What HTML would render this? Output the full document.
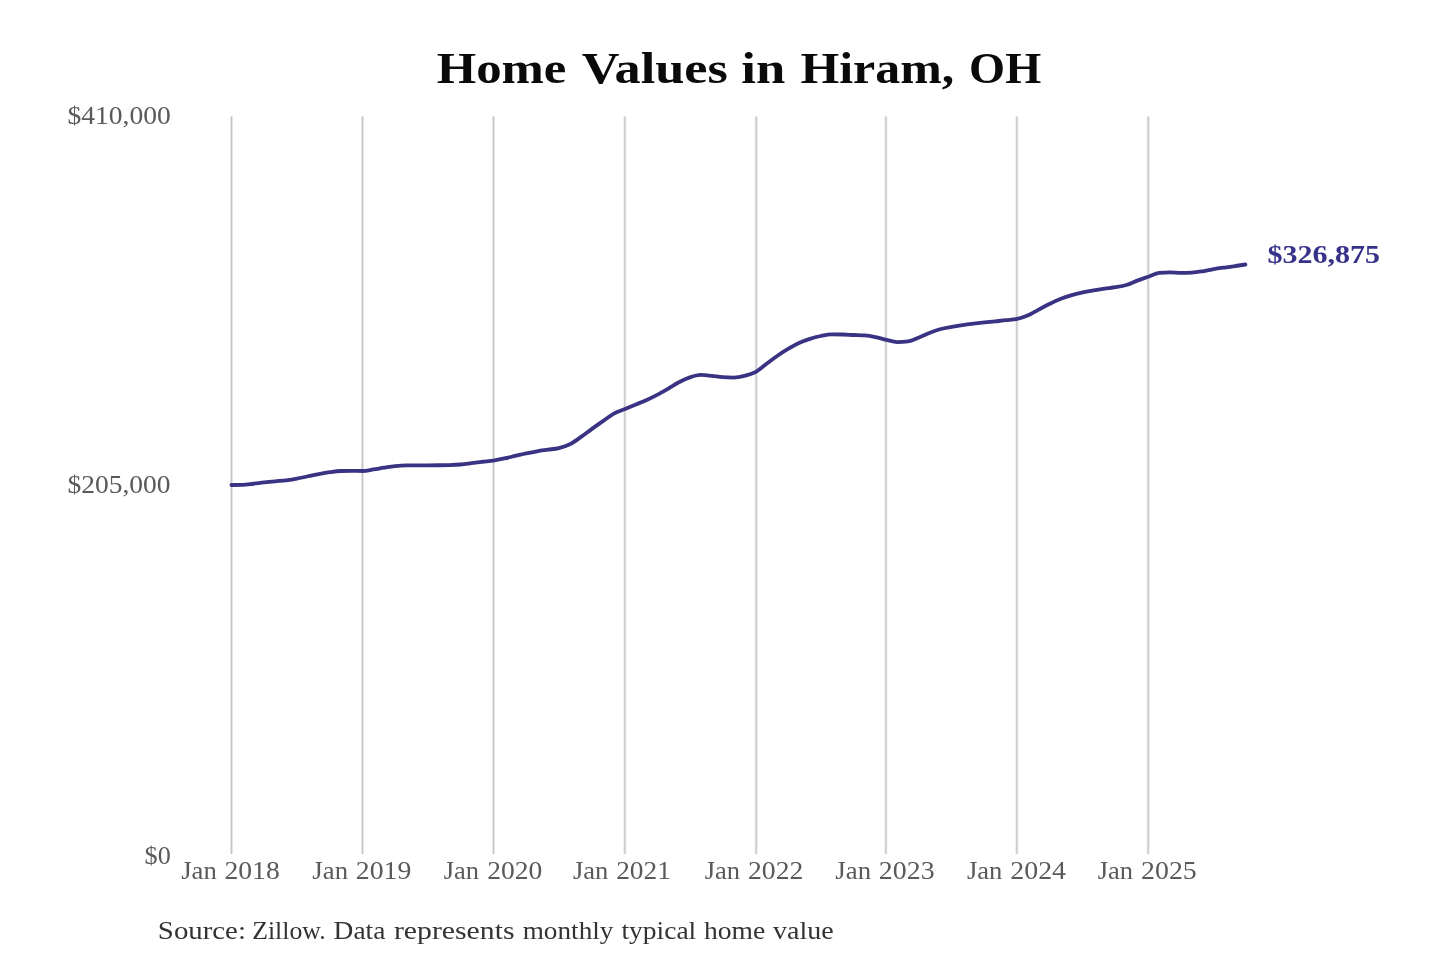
<!DOCTYPE html>
<html><head><meta charset="utf-8"><style>
html,body{margin:0;padding:0;background:#fff;overflow:hidden;}
svg{display:block;}
text{font-family:"Liberation Serif",serif;}
</style></head><body>
<svg width="1440" height="960" viewBox="0 0 1440 960">
<rect width="1440" height="960" fill="#fff"/>
<g stroke="#e6e6e6" stroke-width="2.8">
<line x1="231.5" y1="116.5" x2="231.5" y2="854"/>
<line x1="362.5" y1="116.5" x2="362.5" y2="854"/>
<line x1="493.5" y1="116.5" x2="493.5" y2="854"/>
<line x1="624.8" y1="116.5" x2="624.8" y2="854"/>
<line x1="756.2" y1="116.5" x2="756.2" y2="854"/>
<line x1="885.9" y1="116.5" x2="885.9" y2="854"/>
<line x1="1016.8" y1="116.5" x2="1016.8" y2="854"/>
<line x1="1148.2" y1="116.5" x2="1148.2" y2="854"/>
</g>
<g stroke="#c4c4c4" stroke-width="1.1">
<line x1="231.5" y1="116.5" x2="231.5" y2="854"/>
<line x1="362.5" y1="116.5" x2="362.5" y2="854"/>
<line x1="493.5" y1="116.5" x2="493.5" y2="854"/>
<line x1="624.8" y1="116.5" x2="624.8" y2="854"/>
<line x1="756.2" y1="116.5" x2="756.2" y2="854"/>
<line x1="885.9" y1="116.5" x2="885.9" y2="854"/>
<line x1="1016.8" y1="116.5" x2="1016.8" y2="854"/>
<line x1="1148.2" y1="116.5" x2="1148.2" y2="854"/>
</g>
<path d="M231.50,485.00 C235.14,484.97 238.78,484.95 242.41,484.85 C246.05,484.75 249.69,484.16 253.33,483.75 C256.96,483.34 260.60,482.81 264.24,482.41 C267.88,482.00 271.51,481.65 275.15,481.31 C278.79,480.96 282.43,480.77 286.07,480.32 C289.70,479.88 293.34,479.34 296.98,478.66 C300.62,477.99 304.25,477.03 307.89,476.26 C311.53,475.49 315.17,474.71 318.80,474.03 C322.44,473.36 326.08,472.71 329.72,472.21 C333.36,471.71 336.99,471.16 340.63,471.02 C344.27,470.88 347.91,470.81 351.54,470.81 C355.18,470.81 358.82,470.99 362.46,470.99 C366.09,470.99 369.73,470.04 373.37,469.48 C377.01,468.92 380.65,468.18 384.28,467.61 C387.92,467.04 391.56,466.43 395.20,466.05 C398.83,465.67 402.47,465.37 406.11,465.34 C409.75,465.31 413.38,465.30 417.02,465.30 C420.66,465.30 424.30,465.30 427.94,465.30 C431.57,465.30 435.21,465.29 438.85,465.26 C442.49,465.23 446.12,465.20 449.76,465.10 C453.40,465.00 457.04,464.84 460.68,464.51 C464.31,464.19 467.95,463.63 471.59,463.17 C475.23,462.71 478.86,462.19 482.50,461.75 C486.14,461.30 489.78,461.06 493.41,460.51 C497.05,459.96 500.69,459.22 504.33,458.46 C507.97,457.70 511.60,456.79 515.24,455.95 C518.88,455.12 522.52,454.21 526.15,453.43 C529.79,452.65 533.43,451.91 537.07,451.29 C540.70,450.67 544.34,450.24 547.98,449.71 C551.62,449.17 555.26,448.96 558.89,448.06 C562.53,447.16 566.17,446.11 569.81,444.30 C573.44,442.48 577.08,439.69 580.72,437.17 C584.36,434.64 587.99,431.77 591.63,429.14 C595.27,426.52 598.91,423.95 602.55,421.41 C606.18,418.87 609.82,415.92 613.46,413.89 C617.10,411.85 620.73,410.73 624.37,409.20 C628.01,407.66 631.65,406.18 635.28,404.69 C638.92,403.20 642.56,401.90 646.20,400.26 C649.84,398.63 653.47,396.81 657.11,394.89 C660.75,392.98 664.39,390.87 668.02,388.77 C671.66,386.67 675.30,384.19 678.94,382.29 C682.57,380.40 686.21,378.60 689.85,377.38 C693.49,376.16 697.13,374.97 700.76,374.97 C704.40,374.97 708.04,375.45 711.68,375.81 C715.31,376.17 718.95,376.87 722.59,377.13 C726.23,377.40 729.86,377.53 733.50,377.53 C737.14,377.53 740.78,376.84 744.42,375.95 C748.05,375.06 751.69,374.17 755.33,372.17 C758.97,370.18 762.60,366.70 766.24,364.00 C769.88,361.31 773.52,358.50 777.15,356.00 C780.79,353.50 784.43,351.16 788.07,348.99 C791.71,346.81 795.34,344.65 798.98,342.96 C802.62,341.26 806.26,339.98 809.89,338.82 C813.53,337.66 817.17,336.75 820.81,336.01 C824.44,335.26 828.08,334.36 831.72,334.36 C835.36,334.36 839.00,334.40 842.63,334.48 C846.27,334.56 849.91,334.85 853.55,335.01 C857.18,335.18 860.82,335.16 864.46,335.46 C868.10,335.77 871.73,336.40 875.37,337.13 C879.01,337.86 882.65,339.02 886.29,339.85 C889.92,340.68 893.56,342.12 897.20,342.12 C900.84,342.12 904.47,341.90 908.11,341.47 C911.75,341.03 915.39,338.93 919.02,337.48 C922.66,336.02 926.30,334.14 929.94,332.73 C933.58,331.31 937.21,329.97 940.85,329.00 C944.49,328.02 948.13,327.53 951.76,326.88 C955.40,326.22 959.04,325.60 962.68,325.06 C966.32,324.53 969.95,324.09 973.59,323.65 C977.23,323.21 980.87,322.81 984.50,322.42 C988.14,322.04 991.78,321.69 995.42,321.33 C999.05,320.96 1002.69,320.63 1006.33,320.21 C1009.97,319.80 1013.61,319.67 1017.24,318.84 C1020.88,318.02 1024.52,316.84 1028.16,315.25 C1031.79,313.67 1035.43,311.28 1039.07,309.35 C1042.71,307.43 1046.34,305.46 1049.98,303.71 C1053.62,301.96 1057.26,300.27 1060.90,298.85 C1064.53,297.42 1068.17,296.21 1071.81,295.15 C1075.45,294.08 1079.08,293.26 1082.72,292.45 C1086.36,291.64 1090.00,290.94 1093.63,290.30 C1097.27,289.66 1100.91,289.13 1104.55,288.61 C1108.19,288.10 1111.82,287.82 1115.46,287.22 C1119.10,286.62 1122.74,286.12 1126.37,285.02 C1130.01,283.92 1133.65,281.98 1137.29,280.61 C1140.92,279.24 1144.56,278.08 1148.20,276.80 C1151.84,275.52 1155.48,273.32 1159.11,272.93 C1162.75,272.55 1166.39,272.35 1170.03,272.35 C1173.66,272.35 1177.30,272.85 1180.94,272.85 C1184.58,272.85 1188.21,272.78 1191.85,272.64 C1195.49,272.50 1199.13,271.84 1202.77,271.26 C1206.40,270.68 1210.04,269.79 1213.68,269.16 C1217.32,268.54 1220.95,268.04 1224.59,267.52 C1228.23,266.99 1231.87,266.53 1235.50,266.00 C1238.80,265.52 1242.10,265.01 1245.40,264.50" fill="none" stroke="#3a3282" stroke-width="3.8" stroke-linecap="round" stroke-linejoin="round"/>
<g style="will-change:transform">
<text x="436.66" y="82.80" font-size="43.4" font-weight="bold" fill="#0a0a0a" textLength="129.67" lengthAdjust="spacingAndGlyphs">Home</text>
<text x="581.66" y="82.80" font-size="43.4" font-weight="bold" fill="#0a0a0a" textLength="146.29" lengthAdjust="spacingAndGlyphs">Values</text>
<text x="741.34" y="82.80" font-size="43.4" font-weight="bold" fill="#0a0a0a" textLength="43.92" lengthAdjust="spacingAndGlyphs">in</text>
<text x="800.49" y="82.80" font-size="43.4" font-weight="bold" fill="#0a0a0a" textLength="153.71" lengthAdjust="spacingAndGlyphs">Hiram,</text>
<text x="969.12" y="82.80" font-size="43.4" font-weight="bold" fill="#0a0a0a" textLength="72.09" lengthAdjust="spacingAndGlyphs">OH</text>
<text x="67.44" y="124.10" font-size="25.6" fill="#5a5a5a" textLength="103.45" lengthAdjust="spacingAndGlyphs">$410,000</text>
<text x="67.46" y="492.70" font-size="25.6" fill="#5a5a5a" textLength="103.16" lengthAdjust="spacingAndGlyphs">$205,000</text>
<text x="144.62" y="863.90" font-size="25.6" fill="#5a5a5a" textLength="26.16" lengthAdjust="spacingAndGlyphs">$0</text>
<text x="1267.50" y="263.00" font-size="24.7" font-weight="bold" fill="#37328a" textLength="112.63" lengthAdjust="spacingAndGlyphs">$326,875</text>
<text x="157.89" y="938.90" font-size="25.6" fill="#333333" textLength="88.06" lengthAdjust="spacingAndGlyphs">Source:</text>
<text x="252.19" y="938.90" font-size="25.6" fill="#333333" textLength="73.44" lengthAdjust="spacingAndGlyphs">Zillow.</text>
<text x="333.57" y="938.90" font-size="25.6" fill="#333333" textLength="51.81" lengthAdjust="spacingAndGlyphs">Data</text>
<text x="393.92" y="938.90" font-size="25.6" fill="#333333" textLength="120.57" lengthAdjust="spacingAndGlyphs">represents</text>
<text x="522.69" y="938.90" font-size="25.6" fill="#333333" textLength="90.75" lengthAdjust="spacingAndGlyphs">monthly</text>
<text x="621.43" y="938.90" font-size="25.6" fill="#333333" textLength="74.85" lengthAdjust="spacingAndGlyphs">typical</text>
<text x="704.06" y="938.90" font-size="25.6" fill="#333333" textLength="61.26" lengthAdjust="spacingAndGlyphs">home</text>
<text x="773.12" y="938.90" font-size="25.6" fill="#333333" textLength="60.65" lengthAdjust="spacingAndGlyphs">value</text>
<text x="181.19" y="879.40" font-size="25.6" fill="#5a5a5a" textLength="35.61" lengthAdjust="spacingAndGlyphs">Jan</text>
<text x="224.49" y="879.40" font-size="25.6" fill="#5a5a5a" textLength="55.25" lengthAdjust="spacingAndGlyphs">2018</text>
<text x="312.39" y="879.40" font-size="25.6" fill="#5a5a5a" textLength="35.71" lengthAdjust="spacingAndGlyphs">Jan</text>
<text x="355.86" y="879.40" font-size="25.6" fill="#5a5a5a" textLength="55.47" lengthAdjust="spacingAndGlyphs">2019</text>
<text x="443.70" y="879.40" font-size="25.6" fill="#5a5a5a" textLength="35.32" lengthAdjust="spacingAndGlyphs">Jan</text>
<text x="487.19" y="879.40" font-size="25.6" fill="#5a5a5a" textLength="55.07" lengthAdjust="spacingAndGlyphs">2020</text>
<text x="572.99" y="879.40" font-size="25.6" fill="#5a5a5a" textLength="35.41" lengthAdjust="spacingAndGlyphs">Jan</text>
<text x="616.19" y="879.40" font-size="25.6" fill="#5a5a5a" textLength="54.71" lengthAdjust="spacingAndGlyphs">2021</text>
<text x="704.67" y="879.40" font-size="25.6" fill="#5a5a5a" textLength="35.41" lengthAdjust="spacingAndGlyphs">Jan</text>
<text x="748.00" y="879.40" font-size="25.6" fill="#5a5a5a" textLength="55.28" lengthAdjust="spacingAndGlyphs">2022</text>
<text x="835.39" y="879.40" font-size="25.6" fill="#5a5a5a" textLength="35.71" lengthAdjust="spacingAndGlyphs">Jan</text>
<text x="878.87" y="879.40" font-size="25.6" fill="#5a5a5a" textLength="55.70" lengthAdjust="spacingAndGlyphs">2023</text>
<text x="966.99" y="879.40" font-size="25.6" fill="#5a5a5a" textLength="35.41" lengthAdjust="spacingAndGlyphs">Jan</text>
<text x="1010.29" y="879.40" font-size="25.6" fill="#5a5a5a" textLength="55.72" lengthAdjust="spacingAndGlyphs">2024</text>
<text x="1097.70" y="879.40" font-size="25.6" fill="#5a5a5a" textLength="35.32" lengthAdjust="spacingAndGlyphs">Jan</text>
<text x="1141.14" y="879.40" font-size="25.6" fill="#5a5a5a" textLength="55.64" lengthAdjust="spacingAndGlyphs">2025</text>
</g>
</svg>
</body></html>
